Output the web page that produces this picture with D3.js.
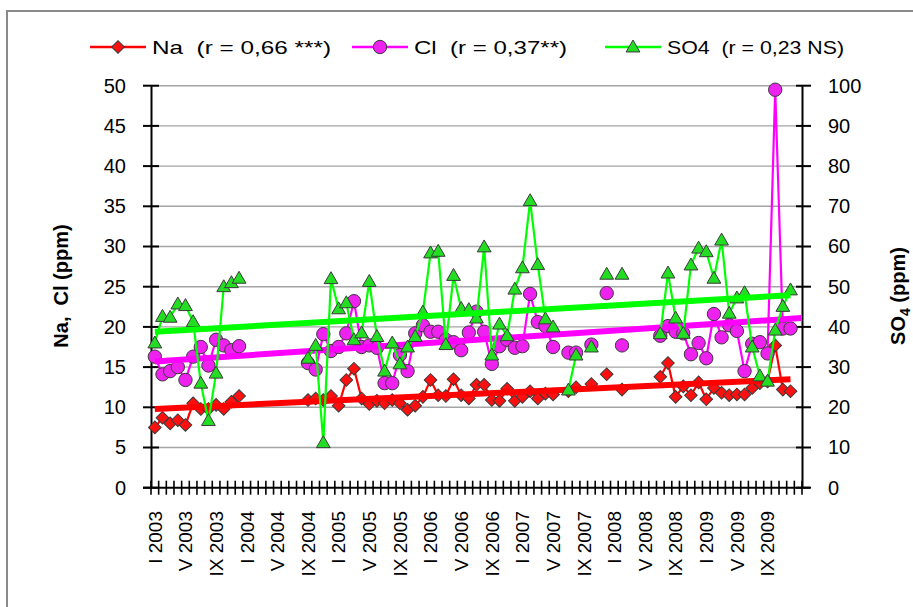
<!DOCTYPE html>
<html>
<head>
<meta charset="utf-8">
<script src="https://cdn.jsdelivr.net/npm/d3@7"></script>
<style>
  body { margin: 0; background: #fff; }
  text { font-family: "Liberation Sans", Arial, sans-serif; fill: #000; }
</style>
</head>
<body>
<script>
// months in roman numerals, years of the record
var months = ["I", "II", "III", "IV", "V", "VI", "VII", "VIII", "IX", "X", "XI", "XII"];
var years = [2003, 2004, 2005, 2006, 2007, 2008, 2009, 2010];

// monthly values, null = no sample (index 0 = I 2003)
var na = [7.5, 8.7, 8.0, 8.4, 7.8, 10.5, 9.8, 9.8, 10.3, 9.8, 10.7, 11.4,
  null, null, null, null, null, null, null, null,
  10.9, 11.1, 10.9, 11.4, 10.2, 13.4, 14.8, 11.1, 10.4, 10.8, 10.5, 10.9, 10.5, 9.7, 10.2, 11.3,
  13.4, 11.5, 11.4, 13.5, 11.5, 11.1, 12.8, 12.8, 10.9, 10.8, 12.3, 10.8,
  11.3, 12.0, 11.1, 11.7, 11.6, null, 12.0, 12.5, null, 12.9, null, 14.1,
  null, 12.2, null, null, null, null, 13.8, 15.5, 11.3, 12.6, 11.5, 13.1,
  11.0, 12.4, 11.8, 11.5, 11.6, 11.6, 12.4, 13.0, 13.2, 17.7, 12.2, 12.0];

var cl = [16.3, 14.1, 14.5, 15.0, 13.4, 16.3, 17.5, 15.2, 18.4, 17.7, 17.1, 17.6,
  null, null, null, null, null, null, null, null,
  15.5, 14.7, 19.1, 17.0, 17.5, 19.2, 23.2, 17.5, 17.7, 17.4, 13.0, 13.0, 16.5, 14.5, 19.2, 20.2,
  19.4, 19.4, 18.4, 18.1, 17.1, 19.3, 21.9, 19.4, 15.4, 17.6, 18.4, 17.4,
  17.6, 24.1, 20.6, 20.1, 17.5, null, 16.8, 16.8, null, 17.8, null, 24.2,
  null, 17.7, null, null, null, null, 18.9, 20.1, 19.4, 19.2, 16.6, 18.0,
  16.1, 21.6, 18.7, 20.2, 19.5, 14.5, 17.9, 18.1, 16.7, 49.5, 19.8, 19.8];

var so4 = [36, 42.6, 42.4, 45.7, 45.3, 41.3, 26, 16.7, 28.5, 50, 51, 52.1,
  null, null, null, null, null, null, null, null,
  32.2, 35.4, 11.2, 52, 44.5, 46, 36.8, 38.5, 51.3, 37.6, 29, 36, 30.8, 35, 37.6, 43.7,
  58.4, 58.8, 35.6, 52.8, 44.6, 44.3, 42.2, 59.9, 33, 40.7, 37.8, 49.4,
  54.7, 71.4, 55.5, 42, 40, null, 24.3, 33, null, 35, null, 53.1,
  null, 53.1, null, null, null, null, 38.3, 53.4, 42.2, 38.4, 55.4, 59.6,
  58.7, 52.1, 61.6, 43.4, 47.2, 48.5, 35, 27.8, 26.5, 39.2, 45.1, 49.2];

// linear trends: [start, end] category index and value
var naTrend = [[0, 9.8], [83, 13.5]];
var clTrend = [[0, 15.7], [84.4, 21.1]];
var so4Trend = [[0, 38.8], [83, 47.9]];

var leftTicks = [0, 5, 10, 15, 20, 25, 30, 35, 40, 45, 50];
var rightTicks = [0, 10, 20, 30, 40, 50, 60, 70, 80, 90, 100];

var categories = [];
years.forEach(function(y) {
  months.forEach(function(m) { categories.push(m + " " + y); });
});
categories = categories.slice(0, 85);

var width = 913, height = 607;
var plot = {left: 151, right: 802, top: 85.7, bottom: 487.7};

var svg = d3.select("body").append("svg")
    .attr("width", width)
    .attr("height", height);

svg.append("rect")
    .attr("x", 7).attr("y", 11)
    .attr("width", 940).attr("height", 640)
    .attr("fill", "#fff")
    .attr("stroke", "#8a8a8a")
    .attr("stroke-width", 2);

var x = d3.scaleBand()
    .domain(d3.range(categories.length))
    .range([plot.left, plot.right])
    .padding(0);
var bw = x.bandwidth();
function cx(i) { return plot.left + bw * (i + 0.5); }

var yL = d3.scaleLinear().domain([0, 50]).range([plot.bottom, plot.top]);
var yR = d3.scaleLinear().domain([0, 100]).range([plot.bottom, plot.top]);

// grid
svg.append("g").selectAll("line")
    .data(leftTicks.slice(1))
  .enter().append("line")
    .attr("x1", plot.left).attr("x2", plot.right)
    .attr("y1", yL).attr("y2", yL)
    .attr("stroke", "#a4a4a4")
    .attr("stroke-width", 1.4);

// left axis
var axL = d3.axisLeft(yL).tickValues(leftTicks).tickSize(0).tickPadding(25);
var gL = svg.append("g").attr("transform", "translate(" + plot.left + ",0)").call(axL);
gL.select(".domain").attr("stroke", "#000").attr("stroke-width", 2);
gL.selectAll("text").style("font-size", "20px").attr("fill", "#111");
gL.selectAll(".tickmark").data(leftTicks).enter().append("line")
    .attr("x1", -8).attr("x2", 8)
    .attr("y1", function(d) { return yL(d); })
    .attr("y2", function(d) { return yL(d); })
    .attr("stroke", "#000").attr("stroke-width", 2);

// right axis
var axR = d3.axisRight(yR).tickValues(rightTicks).tickSize(0).tickPadding(26);
var gR = svg.append("g").attr("transform", "translate(" + plot.right + ",0)").call(axR);
gR.select(".domain").attr("stroke", "#000").attr("stroke-width", 2);
gR.selectAll("text").style("font-size", "20px").attr("fill", "#111");
gR.selectAll(".tickmark").data(rightTicks).enter().append("line")
    .attr("x1", -6).attr("x2", 9)
    .attr("y1", function(d) { return yR(d); })
    .attr("y2", function(d) { return yR(d); })
    .attr("stroke", "#000").attr("stroke-width", 2);

// category axis
var gX = svg.append("g");
gX.append("line")
    .attr("x1", plot.left - 8).attr("x2", plot.right + 8)
    .attr("y1", plot.bottom).attr("y2", plot.bottom)
    .attr("stroke", "#000").attr("stroke-width", 2);
gX.selectAll(".tick").data(d3.range(categories.length + 1))
  .enter().append("line")
    .attr("x1", function(i) { return plot.left + bw * i; })
    .attr("x2", function(i) { return plot.left + bw * i; })
    .attr("y1", plot.bottom - 7).attr("y2", plot.bottom + 7)
    .attr("stroke", "#000").attr("stroke-width", 1.6);
gX.selectAll("text").data(d3.range(0, 81, 4))
  .enter().append("text")
    .attr("transform", function(i) { return "translate(" + cx(i) + ",511) rotate(-90)"; })
    .attr("text-anchor", "end")
    .attr("dy", "0.36em")
    .style("font-size", "19px")
    .attr("fill", "#111")
    .text(function(i) { return categories[i]; });

// axis titles
svg.append("text")
    .attr("transform", "translate(61,286) rotate(-90)")
    .attr("text-anchor", "middle")
    .attr("dy", "0.35em")
    .style("font-size", "20px")
    .style("font-weight", "bold")
    .attr("fill", "#222")
    .text("Na,\u00a0 Cl (ppm)");

var t4 = svg.append("text")
    .attr("transform", "translate(898,296) rotate(-90)")
    .attr("text-anchor", "middle")
    .attr("dy", "0.35em")
    .style("font-size", "20px")
    .style("font-weight", "bold")
    .attr("fill", "#222");
t4.append("tspan").text("SO");
t4.append("tspan").attr("dy", "5").style("font-size", "14px").text("4");
t4.append("tspan").attr("dy", "-5").text(" (ppm)");

// series
var series = [
  {name: "Na", values: na, y: yL, color: "#ff0000", fill: "#ff1010", marker: "diamond", trend: naTrend},
  {name: "Cl", values: cl, y: yL, color: "#ff00ff", fill: "#ee22ee", marker: "circle", trend: clTrend},
  {name: "SO4", values: so4, y: yR, color: "#00ff00", fill: "#22dd22", marker: "triangle", trend: so4Trend}
];

var symDiamond = d3.symbol().type(d3.symbolSquare).size(80);
var symCircle = d3.symbol().type(d3.symbolCircle).size(140);
var symTriangle = d3.symbol().type(d3.symbolTriangle).size(82);

function markerPath(m) {
  if (m === "diamond") return symDiamond();
  if (m === "circle") return symCircle();
  return symTriangle();
}
function markerTransform(m, px, py) {
  if (m === "diamond") return "translate(" + px + "," + py + ") rotate(45)";
  if (m === "triangle") return "translate(" + px + "," + (py + 1) + ")";
  return "translate(" + px + "," + py + ")";
}

function drawSeries(s) {
  var line = d3.line()
      .defined(function(d) { return d != null; })
      .x(function(d, i) { return cx(i); })
      .y(function(d) { return s.y(d); });

  svg.append("path")
      .datum(s.values)
      .attr("fill", "none")
      .attr("stroke", s.color)
      .attr("stroke-width", 2.2)
      .attr("d", line);

  svg.append("g").selectAll("path")
      .data(s.values.map(function(v, i) { return {i: i, v: v}; }).filter(function(d) { return d.v != null; }))
    .enter().append("path")
      .attr("d", markerPath(s.marker))
      .attr("transform", function(d) { return markerTransform(s.marker, cx(d.i), s.y(d.v)); })
      .attr("fill", s.fill)
      .attr("stroke", "#3a3a3a")
      .attr("stroke-width", 1);
}

function drawTrend(s) {
  svg.append("line")
      .attr("x1", cx(s.trend[0][0])).attr("y1", s.y(s.trend[0][1]))
      .attr("x2", cx(s.trend[1][0])).attr("y2", s.y(s.trend[1][1]))
      .attr("stroke", s.color)
      .attr("stroke-width", 6);
}

drawSeries(series[0]);
drawSeries(series[1]);
drawTrend(series[0]);
drawTrend(series[1]);
drawSeries(series[2]);
drawTrend(series[2]);

// legend
var legend = [
  {s: series[0], label: "Na\u00a0 (r = 0,66 ***)", x: 90, len: 179},
  {s: series[1], label: "Cl\u00a0 (r = 0,37**)", x: 352, len: 153},
  {s: series[2], label: "SO4\u00a0 (r = 0,23 NS)", x: 605, len: 177}
];
var lg = svg.append("g").selectAll("g")
    .data(legend)
  .enter().append("g")
    .attr("transform", function(d) { return "translate(" + d.x + ",47)"; });
lg.append("line")
    .attr("x1", 0).attr("x2", 56)
    .attr("stroke", function(d) { return d.s.color; })
    .attr("stroke-width", 2.5);
lg.append("path")
    .attr("d", function(d) { return markerPath(d.s.marker); })
    .attr("transform", function(d) { return markerTransform(d.s.marker, 28, 0); })
    .attr("fill", function(d) { return d.s.fill; })
    .attr("stroke", "#3a3a3a")
    .attr("stroke-width", 1);
lg.append("text")
    .attr("x", 62)
    .attr("dy", "0.35em")
    .attr("textLength", function(d) { return d.len; })
    .attr("lengthAdjust", "spacingAndGlyphs")
    .style("font-size", "19px")
    .text(function(d) { return d.label; });
</script>
</body>
</html>
